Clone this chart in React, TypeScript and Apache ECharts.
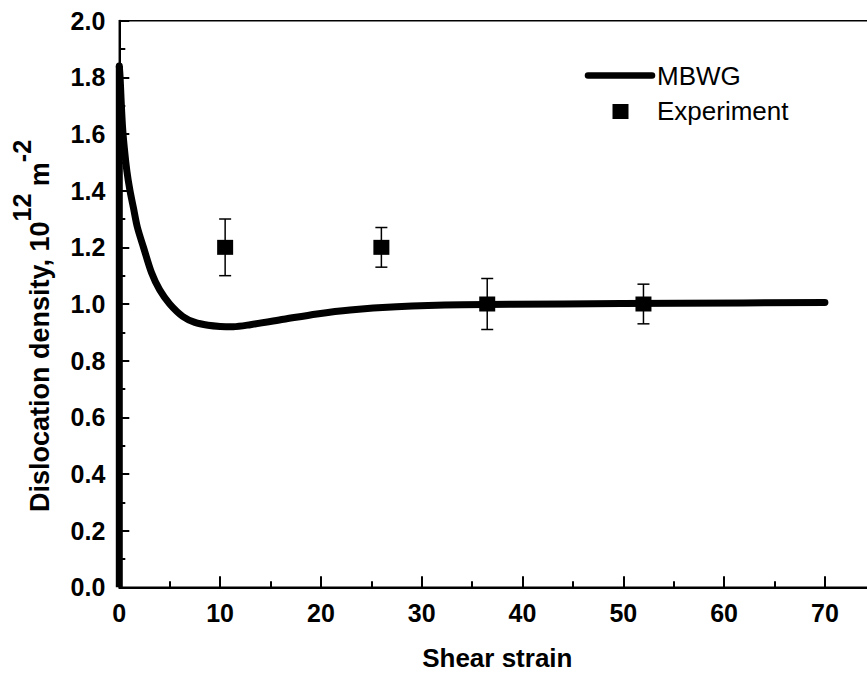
import React, { useEffect, useRef } from "react";
import * as echarts from "echarts";

const curveX = [0, 0.08, 0.18, 0.33, 0.5, 0.75, 1.06, 1.4, 1.8, 2.4, 3.2, 4.0, 5.0, 6.3, 7.5, 8.8, 10, 11.3, 13, 16.3, 19.6, 22.9, 27.5, 34, 44, 55.6, 70];
const curveY = [1.84, 1.8, 1.72, 1.62, 1.55, 1.47, 1.4, 1.34, 1.27, 1.2, 1.11, 1.05, 1.0, 0.956, 0.935, 0.925, 0.921, 0.92, 0.927, 0.946, 0.965, 0.979, 0.99, 0.997, 1.0, 1.003, 1.005];
const startX = [0, 0];
const startY = [0, 1.84];

const expX = [10.5, 26.0, 36.5, 52.0];
const expY = [1.2, 1.2, 1.0, 1.0];
const expErr = [0.1, 0.07, 0.09, 0.07];

const FONT = "'Liberation Sans', Arial, sans-serif";

export default function App() {
  const ref = useRef<HTMLDivElement>(null);
  useEffect(() => {
    if (!ref.current) return;
    const chart = echarts.init(ref.current, null, { renderer: "svg" });
    const curveData = curveX.map((x, i) => [x, curveY[i]]);
    const startData = startX.map((x, i) => [x, startY[i]]);
    const expData = expX.map((x, i) => [x, expY[i]]);
    const errData = expX.map((x, i) => [x, expY[i] - expErr[i], expY[i] + expErr[i]]);
    chart.setOption({
      animation: false,
      backgroundColor: "#fff",
      grid: {
        left: 119.3,
        top: 20.7,
        width: 756,
        height: 566.6,
        outerBoundsMode: "none",
        containLabel: false,
        show: true,
        borderColor: "#000",
        borderWidth: 1.5,
        backgroundColor: "transparent",
      },
      xAxis: {
        type: "value",
        min: 0,
        max: 75,
        interval: 10,
        name: "Shear strain",
        nameLocation: "middle",
        nameGap: 58,
        nameTextStyle: { fontFamily: FONT, fontSize: 26, fontWeight: "bold", color: "#000" },
        axisLine: { show: true, onZero: false, lineStyle: { color: "#000", width: 2 } },
        axisTick: { show: true, inside: true, length: 11, lineStyle: { color: "#000", width: 2 } },
        minorTick: { show: true, splitNumber: 2, length: 6, lineStyle: { color: "#000", width: 2 } },
        splitLine: { show: false },
        axisLabel: {
          margin: 13,
          fontFamily: FONT,
          fontSize: 25,
          fontWeight: "bold",
          color: "#000",
          formatter: (v: number) => (v <= 70 ? String(v) : ""),
        },
      },
      yAxis: {
        type: "value",
        min: 0,
        max: 2,
        interval: 0.2,
        name: "{main|Dislocation density, 10}{sup|12}{main| m}{sup|-2}",
        nameLocation: "middle",
        nameGap: 66,
        nameTextStyle: {
          fontFamily: FONT,
          fontSize: 27,
          fontWeight: "bold",
          color: "#000",
          padding: [0, 44, 0, 0],
          rich: {
            main: { fontFamily: FONT, fontSize: 27, fontWeight: "bold", color: "#000", verticalAlign: "bottom" },
            sup: {
              fontFamily: FONT,
              fontSize: 25,
              fontWeight: "bold",
              color: "#000",
              verticalAlign: "bottom",
              padding: [0, 0, 19, 0],
            },
          },
        },
        axisLine: { show: true, lineStyle: { color: "#000", width: 2 } },
        axisTick: { show: true, inside: true, length: 10, lineStyle: { color: "#000", width: 2 } },
        minorTick: { show: true, splitNumber: 2, length: 6, lineStyle: { color: "#000", width: 2 } },
        splitLine: { show: false },
        axisLabel: {
          margin: 14,
          fontFamily: FONT,
          fontSize: 25,
          fontWeight: "bold",
          color: "#000",
          formatter: (v: number) => v.toFixed(1),
        },
      },
      series: [
        {
          name: "Start",
          type: "line",
          data: startData,
          showSymbol: false,
          symbol: "none",
          lineStyle: { color: "#000", width: 7 },
          z: 3,
        },
        {
          name: "MBWG",
          type: "line",
          data: curveData,
          showSymbol: false,
          symbol: "none",
          smooth: 0.3,
          lineStyle: { color: "#000", width: 7, cap: "round", join: "round" },
          z: 3,
        },
        {
          name: "ErrorBars",
          type: "custom",
          data: errData,
          z: 4,
          renderItem: (params: any, api: any) => {
            const x = api.value(0);
            const lo = api.coord([x, api.value(1)]);
            const hi = api.coord([x, api.value(2)]);
            const hw = 6;
            const style = { stroke: "#000", lineWidth: 1.5 };
            return {
              type: "group",
              children: [
                { type: "line", shape: { x1: lo[0], y1: lo[1], x2: hi[0], y2: hi[1] }, style },
                { type: "line", shape: { x1: hi[0] - hw, y1: hi[1], x2: hi[0] + hw, y2: hi[1] }, style },
                { type: "line", shape: { x1: lo[0] - hw, y1: lo[1], x2: lo[0] + hw, y2: lo[1] }, style },
              ],
            };
          },
        },
        {
          name: "Experiment",
          type: "scatter",
          data: expData,
          symbol: "rect",
          symbolSize: [16, 15],
          itemStyle: { color: "#000", opacity: 1 },
          z: 5,
        },
      ],
      graphic: [
        {
          type: "line",
          shape: { x1: 588, y1: 75.5, x2: 652, y2: 75.5 },
          style: { stroke: "#000", lineWidth: 6.5, lineCap: "round" },
        },
        {
          type: "rect",
          shape: { x: 612.5, y: 104, width: 16, height: 15 },
          style: { fill: "#000" },
        },
        {
          type: "text",
          x: 657,
          y: 76,
          style: { text: "MBWG", font: `26px ${FONT}`, fill: "#000", verticalAlign: "middle", align: "left" },
        },
        {
          type: "text",
          x: 657,
          y: 111,
          style: { text: "Experiment", font: `26px ${FONT}`, fill: "#000", verticalAlign: "middle", align: "left" },
        },
      ],
    });
    return () => chart.dispose();
  }, []);
  return <div ref={ref} style={{ width: 867, height: 675, position: "absolute", left: 0, top: 0 }} />;
}
